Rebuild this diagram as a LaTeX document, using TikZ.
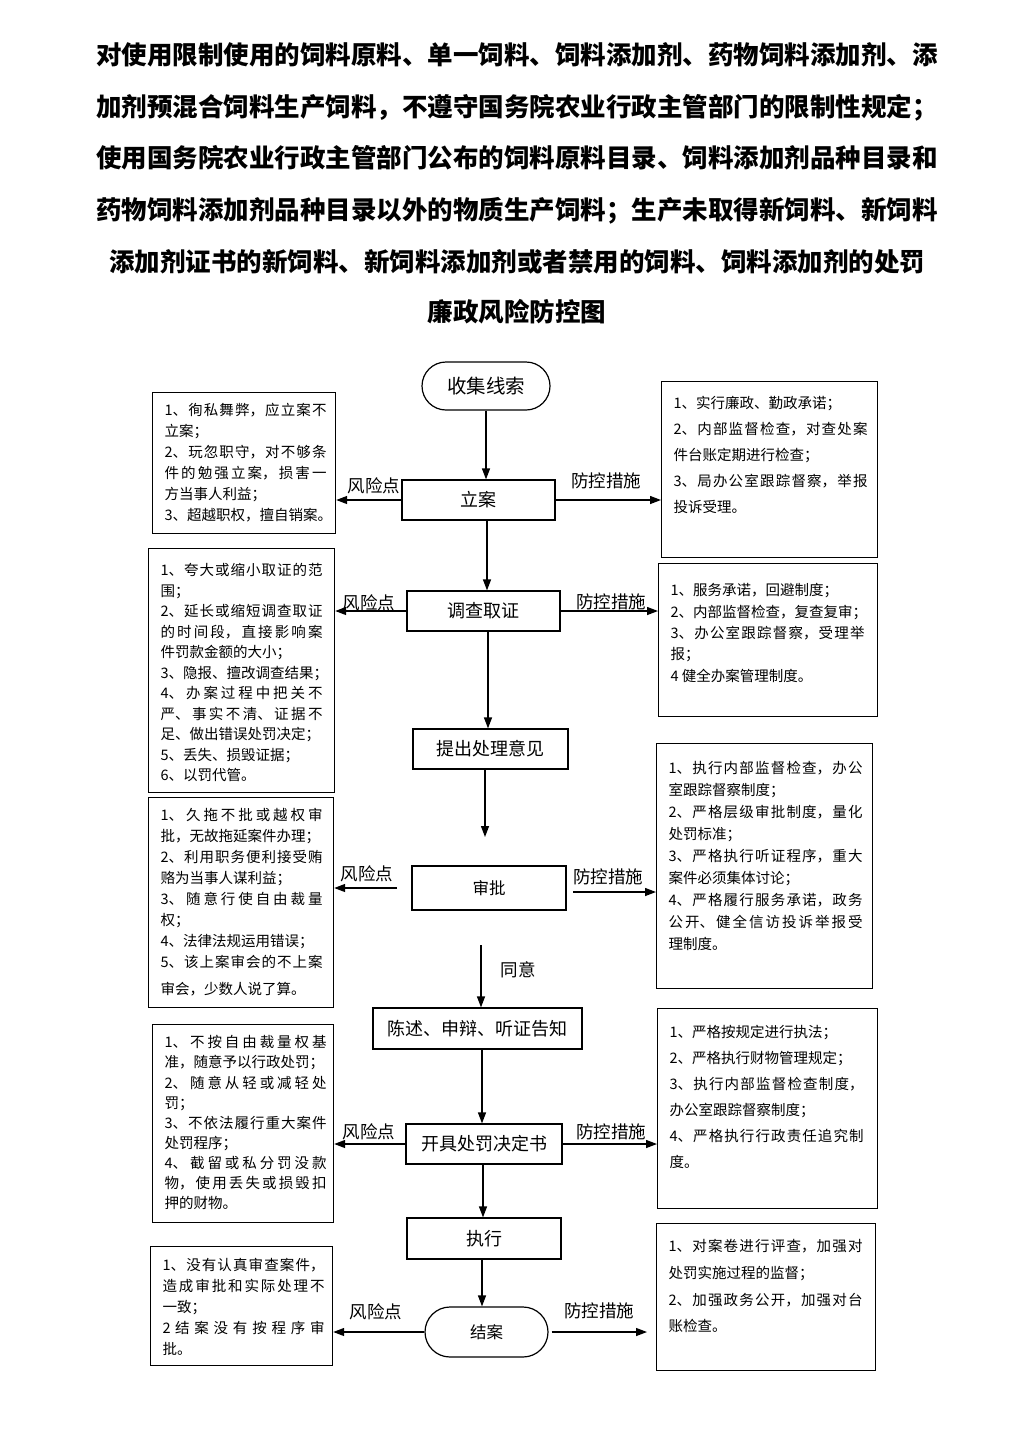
\documentclass[tikz,border=0pt]{standalone}
\usepackage{fontspec}
\setmainfont{Noto Sans CJK SC}
\newfontfamily\halfp[RawFeature=+halt]{Noto Sans CJK SC}
\newcommand\hp[1]{{\halfp #1}}
\usetikzlibrary{arrows.meta}
\newlength\boxtw
\newcommand\tbox[8]{%
  \node[tb, minimum width=#4pt, minimum height=#5pt] (#1) at (#2,#3)
  {\parbox[c][#5pt][t]{#4pt}{\fontsize{14.5}{#7}\selectfont
   \XeTeXlinebreaklocale "zh"\XeTeXlinebreakskip=0pt plus 6pt\relax
   \tolerance=10000 \hbadness=10000 \hfuzz=20pt \parindent=0pt \parskip=0pt
   \leftskip=12pt \rightskip=\dimexpr#4pt-12pt-\boxtw\relax
   \vspace*{#6pt}#8\par}};}
\begin{document}
\begin{tikzpicture}[x=1pt,y=-1pt,
  tb/.style={draw, line width=1.2pt, inner sep=0pt, anchor=north west},
  cn/.style={draw, line width=1.2pt, inner sep=0pt, font=\fontsize{18}{20}\selectfont},
  ttl/.style={inner sep=0pt, font=\fontsize{25.5}{30}\selectfont\bfseries},
  lbl/.style={inner sep=0pt, font=\fontsize{17.5}{20}\selectfont},
  arr/.style={line width=1.3pt, -{Triangle[length=11pt,width=8pt]}}]
\useasboundingbox (0,0) rectangle (1024,1448);
\fill[white] (0,0) rectangle (1024,1448);

% title
\node[ttl, anchor=base west] (t1) at (96,64.7) {对使用限制使用的饲料原料、单一饲料、饲料添加剂、药物饲料添加剂、添};
\node[ttl, anchor=base west] (t2) at (96,116.7) {加剂预混合饲料生产饲料，不遵守国务院农业行政主管部门的限制性规定；};
\node[ttl, anchor=base west] (t3) at (96,167.7) {使用国务院农业行政主管部门公布的饲料原料目录、饲料添加剂品种目录和};
\node[ttl, anchor=base west] (t4) at (96,219.7) {药物饲料添加剂品种目录以外的物质生产饲料；生产未取得新饲料、新饲料};
\node[ttl, anchor=base] (t5) at (517,271.7) {添加剂证书的新饲料、新饲料添加剂或者禁用的饲料、饲料添加剂的处罚};
\node[ttl, anchor=base] (t6) at (517,321.7) {廉政风险防控图};

% centre flow
\node[cn, rounded corners=24pt, minimum width=128pt, minimum height=48pt, font=\fontsize{19.5}{22}\selectfont] (c0) at (486,386) {收集线索};
\node[cn, minimum width=153pt, minimum height=40pt] (c1) at (478.5,500) {立案};
\node[cn, minimum width=153pt, minimum height=40pt] (c2) at (483.5,611) {调查取证};
\node[cn, minimum width=155pt, minimum height=40pt] (c3) at (490.5,749) {提出处理意见};
\node[cn, minimum width=154pt, minimum height=44pt, font=\fontsize{16.5}{20}\selectfont] (c4) at (489,888) {审批};
\node[cn, minimum width=209pt, minimum height=41pt] (c5) at (477.5,1028.5) {陈述、申辩、听证告知};
\node[cn, minimum width=156pt, minimum height=40pt] (c6) at (484,1144) {开具处罚决定书};
\node[cn, minimum width=154pt, minimum height=41pt] (c7) at (484,1238.5) {执行};
\node[cn, rounded corners=25pt, minimum width=123pt, minimum height=50pt, font=\fontsize{16.5}{20}\selectfont] (c8) at (486.5,1332) {结案};

% left boxes
\setlength\boxtw{162pt}
\tbox{L1}{152}{392}{183}{141}{11}{21}{1、徇私舞弊，应立案不\linebreak 立案；\par
2、玩忽职守，对不够条\linebreak 件的勉强立案，损害一\linebreak 方当事人利益；\par
3、超越职权，擅自销案\hp{。}}
\tbox{L2}{148}{548}{186}{244}{15}{20.5}{1、夸大或缩小取证的范\linebreak 围；\par
2、延长或缩短调查取证\linebreak 的时间段，直接影响案\linebreak 件罚款金额的大小；\par
3、隐报、擅改调查结果\hp{；}\par
4、办案过程中把关不\linebreak 严、事实不清、证据不\linebreak 足、做出错误处罚决定；\par
5、丢失、损毁证据；\par
6、以罚代管。}
\tbox{L3}{148}{797}{185}{210}{11}{21}{1、久拖不批或越权审\linebreak 批，无故拖延案件办理；\par
2、利用职务便利接受贿\linebreak 赂为当事人谋利益；\par
3、随意行使自由裁量\linebreak 权；\par
4、法律法规运用错误；\par
5、该上案审会的不上案\vspace{6pt}\linebreak 审会，少数人说了算。}
\tbox{L4}{152}{1024}{181}{198}{11}{20.1}{1、不按自由裁量权基\linebreak 准，随意予以行政处罚；\par
2、随意从轻或减轻处\linebreak 罚；\par
3、不依法履行重大案件\linebreak 处罚程序；\par
4、截留或私分罚没款\linebreak 物，使用丢失或损毁扣\linebreak 押的财物。}
\tbox{L5}{150}{1246}{182}{119}{12}{21}{1、没有认真审查案件，\linebreak 造成审批和实际处理不\linebreak 一致；\par
2 结案没有按程序审\linebreak 批。}

% right boxes
\setlength\boxtw{194pt}
\tbox{R1}{661}{381}{216}{176}{15}{26}{1、实行廉政、勤政承诺；\par
2、内部监督检查，对查处案\linebreak 件台账定期进行检查；\par
3、局办公室跟踪督察，举报\linebreak 投诉受理。}
\tbox{R2}{658}{563}{219}{153}{20}{21.3}{1、服务承诺，回避制度；\par
2、内部监督检查，复查复审\hp{；}\par
3、办公室跟踪督察，受理举\linebreak 报；\par
4 健全办案管理制度。}
\tbox{R3}{656}{743}{216}{245}{18}{22}{1、执行内部监督检查，办公\linebreak 室跟踪督察制度；\par
2、严格层级审批制度，量化\linebreak 处罚标准；\par
3、严格执行听证程序，重大\linebreak 案件必须集体讨论；\par
4、严格履行服务承诺，政务\linebreak 公开、健全信访投诉举报受\linebreak 理制度。}
\tbox{R4}{657}{1008}{220}{200}{17}{26}{1、严格按规定进行执法；\par
2、严格执行财物管理规定；\par
3、执行内部监督检查制度，\linebreak 办公室跟踪督察制度；\par
4、严格执行行政责任追究制\linebreak 度。}
\tbox{R5}{656}{1223}{219}{147}{16}{26.7}{1、对案卷进行评查，加强对\linebreak 处罚实施过程的监督；\par
2、加强政务公开，加强对台\linebreak 账检查。}

% labels
\node[lbl] (k1L) at (374,486) {风险点};
\node[lbl] (k1R) at (606,481) {防控措施};
\node[lbl] (k2L) at (369,603) {风险点};
\node[lbl] (k2R) at (611,602) {防控措施};
\node[lbl] (k4L) at (367,874) {风险点};
\node[lbl] (k4R) at (608,877) {防控措施};
\node[lbl] (k5) at (518,970) {同意};
\node[lbl] (k6L) at (369,1132) {风险点};
\node[lbl] (k6R) at (611,1132) {防控措施};
\node[lbl] (k8L) at (376,1312) {风险点};
\node[lbl] (k8R) at (599,1311) {防控措施};

% helper coordinates
\coordinate (xa2) at (487,0);
\coordinate (xa3) at (488,0);
\coordinate (xa6) at (482,0);
\coordinate (xa7) at (483,0);
\coordinate (xa8) at (482,0);
\coordinate (e4) at (485,837);
\coordinate (s5) at (481,945);
\coordinate (s4L) at (397,888);
\coordinate (s4R) at (573,892);

% vertical arrows
\draw[arr] (c0.south) -- (c0.south |- c1.north);
\draw[arr] (c1.south -| xa2) -- (c2.north -| xa2);
\draw[arr] (c2.south -| xa3) -- (c3.north -| xa3);
\draw[arr] (c3.south -| e4) -- (e4);
\draw[arr] (s5) -- (s5 |- c5.north);
\draw[arr] (c5.south -| xa6) -- (c6.north -| xa6);
\draw[arr] (c6.south -| xa7) -- (c7.north -| xa7);
\draw[arr] (c7.south -| xa8) -- (c8.north -| xa8);

% horizontal arrows
\draw[arr] (c1.west) -- (c1.west -| L1.east);
\draw[arr] (c1.east) -- (c1.east -| R1.west);
\draw[arr] (c2.west) -- (c2.west -| L2.east);
\draw[arr] (c2.east) -- (c2.east -| R2.west);
\draw[arr] (s4L) -- (s4L -| L3.east);
\draw[arr] (s4R) -- (s4R -| R3.west);
\draw[arr] (c6.west) -- (c6.west -| L4.east);
\draw[arr] (c6.east) -- (c6.east -| R4.west);
\draw[arr] (c8.west) -- (c8.west -| L5.east);
\draw[arr, shorten <=3pt, shorten >=9pt] (c8.east) -- (c8.east -| R5.west);
\end{tikzpicture}
\end{document}
